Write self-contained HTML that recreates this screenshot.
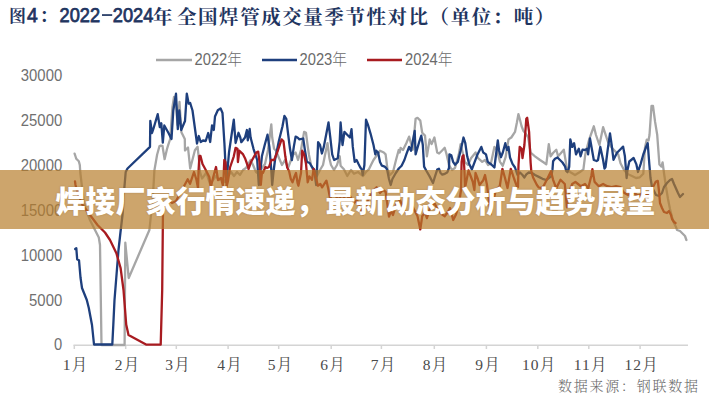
<!DOCTYPE html>
<html><head><meta charset="utf-8">
<style>
html,body{margin:0;padding:0;background:#fff;}
body{width:709px;height:400px;overflow:hidden;position:relative;}
svg{position:absolute;left:0;top:0;}
.banner{position:absolute;left:0;top:170px;width:709px;height:58.5px;background:rgba(183,125,42,0.69);}
.btxt{position:absolute;left:1px;top:173px;width:709px;height:58px;line-height:58px;text-align:center;color:#fff;font-family:"Liberation Sans","Noto Sans CJK SC",sans-serif;font-weight:900;font-size:30px;text-shadow:0 0 2px rgba(80,40,0,0.25);}
</style></head><body>
<svg width="709" height="400" viewBox="0 0 709 400">
<g font-family="'Liberation Sans','Noto Serif CJK SC',serif" font-weight="700" fill="#1f3560">
<text x="9" y="22" font-size="17" font-family="'Liberation Serif','Noto Serif CJK SC',serif">图</text>
<text x="27" y="21.9" font-size="19.3" font-weight="400" stroke="#1f3560" stroke-width="0.75" font-family="'Liberation Sans',sans-serif">4</text>
<text x="39.5" y="22" font-size="18" font-family="'Liberation Serif','Noto Serif CJK SC',serif">：</text>
<text x="59.6" y="21.9" font-size="19.3" font-weight="400" stroke="#1f3560" stroke-width="0.75" font-family="'Liberation Sans',sans-serif" textLength="40.5" lengthAdjust="spacingAndGlyphs">2022</text>
<rect x="102" y="14.2" width="10.2" height="1.7"/>
<text x="112.8" y="21.9" font-size="19.3" font-weight="400" stroke="#1f3560" stroke-width="0.75" font-family="'Liberation Sans',sans-serif" textLength="40.5" lengthAdjust="spacingAndGlyphs">2024</text>
<text x="153" y="23.5" font-size="19.5" font-family="'Liberation Serif','Noto Serif CJK SC',serif">年</text>
<text x="177" y="23.5" font-size="19.5" font-family="'Liberation Serif','Noto Serif CJK SC',serif" letter-spacing="1.55">全国焊管成交量季节性对比（单位：吨）</text>
</g>
<!-- legend -->
<g stroke-width="2.6">
<line x1="156" y1="60" x2="192" y2="60" stroke="#a6a6a6"/>
<line x1="262" y1="60" x2="297" y2="60" stroke="#1e3f7d"/>
<line x1="367" y1="60" x2="402" y2="60" stroke="#a81b20"/>
</g>
<g font-family="'Liberation Sans','Noto Sans CJK SC',sans-serif" font-size="16.3" font-weight="300" fill="#6a6a6a">
<text x="194.5" y="65" textLength="47.5" lengthAdjust="spacingAndGlyphs">2022年</text>
<text x="299.5" y="65" textLength="47.5" lengthAdjust="spacingAndGlyphs">2023年</text>
<text x="405" y="65" textLength="47.5" lengthAdjust="spacingAndGlyphs">2024年</text>
</g>
<!-- y axis labels -->
<g font-family="'Liberation Sans',sans-serif" font-size="15.6" fill="#707070">
<text x="20.8" y="80.6" textLength="41.4" lengthAdjust="spacingAndGlyphs">30000</text>
<text x="20.8" y="125.6" textLength="41.4" lengthAdjust="spacingAndGlyphs">25000</text>
<text x="20.8" y="170.6" textLength="41.4" lengthAdjust="spacingAndGlyphs">20000</text>
<text x="20.8" y="215.6" textLength="41.4" lengthAdjust="spacingAndGlyphs">15000</text>
<text x="20.8" y="260.6" textLength="41.4" lengthAdjust="spacingAndGlyphs">10000</text>
<text x="29.1" y="305.6" textLength="33.1" lengthAdjust="spacingAndGlyphs">5000</text>
<text x="54" y="350.2" textLength="8.2" lengthAdjust="spacingAndGlyphs">0</text>
</g>
<!-- x axis -->
<g stroke="#d4d4d4" stroke-width="1.5">
<line x1="73.5" y1="345.2" x2="688" y2="345.2"/>
<line x1="74.3" y1="345" x2="74.3" y2="349"/>
<line x1="125.7" y1="345" x2="125.7" y2="349"/>
<line x1="176.3" y1="345" x2="176.3" y2="349"/>
<line x1="228.1" y1="345" x2="228.1" y2="349"/>
<line x1="278.7" y1="345" x2="278.7" y2="349"/>
<line x1="331.2" y1="345" x2="331.2" y2="349"/>
<line x1="381.4" y1="345" x2="381.4" y2="349"/>
<line x1="434.3" y1="345" x2="434.3" y2="349"/>
<line x1="486.4" y1="345" x2="486.4" y2="349"/>
<line x1="537.8" y1="345" x2="537.8" y2="349"/>
<line x1="588.8" y1="345" x2="588.8" y2="349"/>
<line x1="640.1" y1="345" x2="640.1" y2="349"/>
</g>
<g font-family="'Liberation Serif','Noto Serif CJK SC',serif" font-size="15.5" fill="#4a4a4a" text-anchor="middle" letter-spacing="1.2" transform="translate(1.7,0)">
<text x="74" y="369.5">1月</text>
<text x="126" y="369.5">2月</text>
<text x="176.5" y="369.5">3月</text>
<text x="228.5" y="369.5">4月</text>
<text x="279" y="369.5">5月</text>
<text x="331.5" y="369.5">6月</text>
<text x="382" y="369.5">7月</text>
<text x="434" y="369.5">8月</text>
<text x="486.5" y="369.5">9月</text>
<text x="537.5" y="369.5">10月</text>
<text x="589" y="369.5">11月</text>
<text x="640" y="369.5">12月</text>
</g>
<text x="558" y="391" font-family="'Liberation Serif','Noto Serif CJK SC',serif" font-weight="300" font-size="14" fill="#6a6a6a" letter-spacing="1.75">数据来源：钢联数据</text>
<!-- series -->
<g fill="none" stroke-width="2.3" stroke-linejoin="round" stroke-linecap="round">
<polyline id="g22" stroke="#a6a6a6" points="74.6,153.6 75.7,157 76.3,158.8 78.8,161.3 79.8,165 80.3,172.5 82,187 83.8,202.5 87,212 90,220 95,230 98.8,237.5 100,245 101.5,345 124.6,345 125.3,242.7 128.7,278 149.4,230 151,215 153,195 154.4,170.4 157.1,154.7 159.5,146 160.7,145.7 162.5,146 164.6,159.2 167,149 168,145.7 170.2,139 172.4,107.5 174,97 176,104 177.5,125 179.5,102 181.4,132.2 184.8,139 185,150.5 188,147.5 190.2,168.5 194.9,150.2 197.6,146.8 199,160 200,172 202,178.5 204,176 206.5,172.5 208,178 210.2,184.5 213,180 216,176 219,180 222,178 225,182 228,176 231,172 234,176 237,172 240,175 243,170 246,168 248.8,163 250.6,160 253,165 256,172 259,174 262,168 265,164 268,150 271.3,124.4 272.2,137.5 274.1,148.8 276,150.7 279,158 282,165 285,160 288,168 291,160 293,155 295.6,152.5 298,160 301,150 304.1,131.9 306,132.8 307.8,146.9 309,155 311,165 314,172 317,176 320,170 323,165 325,155 327.5,143.2 329.4,158.2 331,165 334,170 337,165 339.7,156.3 340.6,165.7 343.9,169.3 347.3,176 351,170 354,173.8 358,172 363,176 366,172 368.8,169.4 371.6,163.8 373.5,160 377,155 380,150.7 383.8,152.5 385.6,154.4 387.5,169.4 390,175 393,172 396,160 398.7,150 399.7,152.5 400.6,147.8 403,150 406.3,143.2 409.1,136.6 412.8,149.7 415.6,118.8 417.5,117.8 420.3,120.6 422.2,132.8 425,135.6 426.9,156.3 429.7,139.4 431.6,144.1 434.4,137.5 437.2,152.5 439.1,153.5 441.9,150.7 444.7,147.8 446.6,154.4 449,165 452,170 455,168 458.8,154.4 460.6,144.1 462,150 465,162 468,165 471,158.2 475.6,152.5 478,158 482.2,161.9 485,160 488,165 491,163 494.4,146.9 497,150 500,161.9 502.8,165.7 505.6,157.2 508.5,139.4 511.3,137.5 515,131.9 516.9,122.5 518.4,114.1 519.7,118.8 521.6,126.3 523.5,131 526,134 528.2,137.5 530.6,152.5 535,156.3 540,160 543.8,162.5 546.3,164.4 548.8,144.1 550.6,156.3 553,153 556.3,149.7 558.1,156.3 561,153 563.8,149.7 566.6,166.6 570,172 575,175 580,172 583.4,169.4 585.3,154.4 589,140 593.8,126.3 596,135 599.4,145 603.1,127.2 605,132.8 608,142 612,148 618.2,154.4 620.5,163.3 624,170 627.5,174 632,176 636,178 639.8,177.3 643.3,173.8 645,147.5 646.8,139.6 648.5,140.5 649.5,135 651.5,106 653,106 655.1,121.9 657.2,134.7 659.4,164.5 661.5,166.6 662.6,162.3 664,173 666,187 668,199 670,209 672,217 674,223 676,227 677,230 680,231 683,234 685,236 686.4,240"/>
<polyline id="n23" stroke="#1e3f7d" points="75.2,249 76.3,248.2 77.2,259.5 79,260.2 80.5,277.5 82,288 85,295.5 86.8,300 88.8,308 92,325 94,344.5 112.3,344.5 113.3,325 114.5,300 116.5,275 118.5,250 120.5,232 122.5,215 124,192 125.7,172 127.5,168.5 150,146.8 150.3,121 152,133 153.5,128.5 157.7,114.2 159.8,127 161.3,123.2 162.8,142.7 164.3,125.5 168.5,133 171.5,139 173.3,110.5 176,93.7 177.8,129.2 179.3,110.5 181.2,130 185,121 186.8,93.7 188.7,103.7 190.2,103 192.5,110.5 197,143.5 198.8,136 200.7,142 203,140.5 205.7,141 208.2,133 210.2,142 212,125.5 213.8,130 215,116.5 217.8,110.3 220.6,108.4 222.5,113 224.4,143 225.5,165 226.3,182 227.5,170 229,152.5 233.8,119.7 235.6,143 238.5,132.8 240.3,137.5 241.3,142.2 245,137.5 246.9,130 247.8,140.3 249.7,129 250.6,137.5 253.5,148.8 255.3,154.4 257.2,160 258.8,185 260.5,170 261.9,156.3 264.7,145 267.5,134.7 269.4,146.9 271.3,170 272.2,185 273.5,172 275,160 278.8,141.3 282.5,126.3 284.4,116 286.3,118.8 288.1,133.8 290,148.8 291.9,160 293.8,146.9 295.6,136.6 297.5,137.5 299.4,139.4 303.2,138.5 305,150.7 306.9,161.9 309.7,163 312,167 314.4,170 315.5,180 316.2,185 317.2,165 318.1,142.2 318.1,142.2 320,145 321.9,153.5 323.8,146.9 328.5,122.5 330.3,137.5 332.2,154.4 334.1,160 337.8,158.2 339.7,141.3 340.6,122.5 342.5,145 344.4,131.9 347.2,134.7 350,137.5 351.5,129.1 352.8,146.9 354.7,161.9 356.6,160 358.4,163.8 360.3,167.5 361.9,169.6 362.7,175 364.4,165 366,119.7 366,119.7 367.8,124.4 370.6,133.8 373.5,145 375.3,154.4 376.3,150.7 378.1,152.5 380,161.9 381.9,165.7 384.7,166.6 386.6,168.5 387.3,170.5 389,179 390.7,185 392.4,179 395.8,173 398.8,168.5 401.6,165.7 404.4,160 406.3,154.4 409.1,146.9 411,150.7 414.7,131 415.6,154.4 419.4,141.3 421.3,135.6 422.8,145 424.1,166.6 426.2,170.5 429.6,176.4 433,183 434.7,177.3 437.2,169.6 438.9,168.8 440.6,173 442.3,174.7 444.8,173.9 447.4,172.2 449,168 449.4,154.4 451.3,155.3 453.1,161.9 455,164.7 457.8,161.9 460.6,150.7 463.5,137.5 465.3,143.2 467.2,156.3 469.1,163.8 471.9,169.4 474.7,161.9 477.5,154.4 481.3,146.9 483.2,152.5 486,154.4 487.8,161.9 491.6,164.7 494.4,167.5 496.3,152.5 497.8,140.3 499.1,150.7 501,157.2 502.8,152.5 505.3,143.2 507,150 508.5,146.9 510,157.5 512.5,163.8 515,167.5 517.5,175 520,172.5 522.5,175 524.4,177.5 526.3,174.4 528.8,172.5 532,173 535,175 538.8,176.9 542.5,178.8 546.3,180 548.8,178.1 551.3,176.3 552.5,169.4 553.1,161.3 555,158.8 557.5,157.5 560,160 562.5,162.5 565,166.3 566.2,171 567.5,172.2 569.2,167 570.3,139.4 570.3,139.4 572.2,146.9 574.1,143.2 576,154.4 578.8,148.8 580.6,156.3 582.5,149.7 585,150 587.2,148.8 588.1,154.4 590,138.5 593.8,160 596.6,161 598,160 600.3,146.9 603.1,160 604.5,168.5 605.5,167 607.8,148.8 610,133.5 611.8,145.8 613.5,159.8 617,152.8 620.5,149.3 623.1,146.6 624.9,156.3 626,170 626.6,178 627.5,170 629.3,161.5 633.6,158 636.3,164.1 638,172 640.6,164.1 643.3,154.5 645.9,147.5 647.7,143.1 649.4,165 650.5,178 652,187 656,195 659,196 662,193 664,187 667,183 670,180 672,179 674,184 678,193 680,197 683,194"/>
<polyline id="r24" stroke="#a81b20" points="75,181.3 75.5,185 77.5,192.5 82.5,205 90,215 97.5,225 105,232.5 110,240 116.4,253.3 120.6,268 123.5,290 124.7,305 126.2,324.5 128.5,335 146.5,344.7 160.7,344.7 162.2,290 163,208.5 168.5,200 172,203 176,201 182,190 187.7,179.3 190,183.8 194,172 196.5,180 198,188 198.6,170 199.4,156 200.5,156 202.5,164 205.5,169.5 209.3,177 210.8,187 213,178 216,167 218,180 221,178 222.8,185.3 223.6,177 224.3,160 225.5,162 226.6,186.8 228,180.8 230,167.5 233.8,156.3 235.6,147.8 237.5,148.8 237.9,162 239.4,150.7 243.1,154.4 245,158.2 247.8,166 248.5,169 251,162 256.3,152.5 258.2,151.6 259.5,162 260.8,184.9 262,172 262.9,173 265.4,167 267,168 269,167 271.3,160 274.1,160 277.8,150.7 281.6,139.4 283.5,141.3 285.3,156.3 287.2,167.5 289.1,171.3 290.8,179 292.5,182.3 294.2,177.3 296,173 297.6,183.2 298.4,185.7 301,173 302.2,150.7 304.1,154.4 306,163.8 307.7,182.3 309.4,176.4 312,179.8 313.6,168.8 314.5,172 317.9,185.7 320.4,184 322.1,187.4 326.4,180.6 328,187.4 330,198 334,192 338,200 342,195 346,200 350,196 354,203 357,200 359.7,207.6 363,214.3 365,210 367.6,200.8 371,195 374,190 376.6,187.3 380,193 383,190 385.6,191.8 387.8,207.6 389,216.6 391,211 393,215 396,205 400,200 404,210 408,214.4 412.8,206.9 417.5,216.3 420.3,229.4 422.2,216.3 425,212.5 426.9,218.2 430,208 434.4,203 438.2,210.7 441.9,214.4 444.7,216.3 447.5,212.5 450,208 453.2,220 456,214.4 458.8,205 461,190 461.6,161.9 462.5,156.3 463.5,155.3 464.4,170 465,188 467,178 468.5,170.5 472.7,181.5 474.4,190 475.5,173 477.8,179 479.5,185 483.1,180.6 485,175 487,185 490.6,214.4 492.5,203.2 496,190 499.8,186 502.4,168.8 505,178 507.5,188 510.8,168.8 514.2,179 516.9,186.3 518,187 518.5,165 519.7,146.9 521.6,148.8 522.5,158.2 524.4,145 526.3,118.8 527.2,117.8 529.1,131.9 530.6,162.5 531.3,171.3 533.1,177.5 535,181.3 536.9,185 538.8,187.5 541,188 543.5,186.2 547.8,177.7 551,171.3 553.1,179.8 556.3,188.3 560.5,179.8 564.8,184 566.9,207.4 569,192.6 572.2,184 575.4,181.9 578,184 580.7,186.2 585,184 588.2,188.3 591.4,175.5 592.4,169.1 594.6,181.9 598.8,186.2 603.1,184 607.3,186.2 611.6,187.2 616,186 620.5,187.2 623.7,192.6 628,195 633,192 638,196 643,193 648,195 652.4,188.3 655.6,181.9 657.8,180.9 659,191 660,203 662,208 664,212 667,213 669,211 671,215 672,219 674,222 675.5,223"/>
</g>
</svg>
<div class="banner"></div>
<div class="btxt">焊接厂家行情速递，最新动态分析与趋势展望</div>
</body></html>
